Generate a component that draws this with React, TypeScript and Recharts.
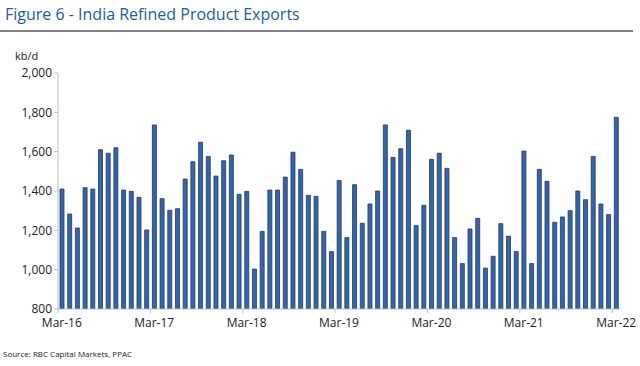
import { BarChart, Bar, XAxis, YAxis } from 'recharts'

const months = ['Jan', 'Feb', 'Mar', 'Apr', 'May', 'Jun', 'Jul', 'Aug', 'Sep', 'Oct', 'Nov', 'Dec']

// monthly exports, Mar-16 .. Mar-22 (kb/d)
const exports2016 = [1410, 1283, 1212, 1417, 1410, 1610, 1592, 1620, 1405, 1398]
const exports2017 = [1368, 1202, 1736, 1361, 1302, 1310, 1461, 1549, 1648, 1576, 1476, 1554]
const exports2018 = [1583, 1383, 1398, 1003, 1195, 1405, 1405, 1471, 1597, 1510, 1378, 1373]
const exports2019 = [1195, 1092, 1454, 1163, 1432, 1236, 1334, 1400, 1736, 1571, 1615, 1709]
const exports2020 = [1224, 1327, 1561, 1592, 1515, 1163, 1031, 1207, 1261, 1008, 1068, 1234]
const exports2021 = [1170, 1092, 1603, 1031, 1510, 1449, 1241, 1268, 1300, 1400, 1356, 1576]
const exports2022 = [1334, 1280, 1775]

const yTicks = [800, 1000, 1200, 1400, 1600, 1800, 2000]

const series: [number, number[], number][] = [
  [16, exports2016, 2],
  [17, exports2017, 0],
  [18, exports2018, 0],
  [19, exports2019, 0],
  [20, exports2020, 0],
  [21, exports2021, 0],
  [22, exports2022, 0],
]

const data = series.flatMap(([yr, vals, start]) =>
  vals.map((v, i) => ({ month: `${months[start + i]}-${yr}`, value: v }))
)

const font = 'Open Sans, Liberation Sans, sans-serif'
const axisGrey = '#BFBFBF'

function MonthTick(props: any) {
  const { x, y, payload } = props
  const half = 561.6 / data.length / 2
  return (
    <g>
      <line x1={x - half} x2={x - half} y1={y - 8} y2={y - 4} stroke={axisGrey} />
      <text x={x} y={y + 10} textAnchor="middle" fontSize={12} fill="#222" fontFamily={font}>
        {payload.value}
      </text>
    </g>
  )
}

export default function App() {
  return (
    <div style={{ position: 'absolute', left: 0, top: 0, width: 640, height: 366, background: '#fff', fontFamily: font }}>
      <div style={{ position: 'absolute', left: 5, top: 3, fontSize: 16, color: '#1F5C99' }}>
        Figure 6 - India Refined Product Exports
      </div>
      <div style={{ position: 'absolute', left: 0, top: 30, width: 633, height: 2, background: '#808080' }} />
      <div style={{ position: 'absolute', left: 15, top: 48, fontSize: 11, color: '#222' }}>kb/d</div>
      <div style={{ position: 'absolute', left: 3, top: 348, fontSize: 8, color: '#222' }}>
        Source: RBC Capital Markets, PPAC
      </div>
      <BarChart
        width={640}
        height={366}
        data={data}
        margin={{ top: 73, right: 20, bottom: 27, left: 0 }}
      >
        <XAxis
          dataKey="month"
          height={30}
          interval={11}
          tick={<MonthTick />}
          tickLine={false}
          axisLine={{ stroke: axisGrey }}
        />
        <YAxis
          width={58}
          domain={[800, 2000]}
          ticks={yTicks}
          allowDataOverflow
          tickFormatter={(v: number) => v.toLocaleString('en-US')}
          tick={{ fontSize: 12, fill: '#222', fontFamily: font }}
          tickLine={{ stroke: axisGrey }}
          tickSize={4}
          axisLine={{ stroke: axisGrey }}
        />
        <Bar dataKey="value" barSize={4} fill="#3565A8" stroke="#1F3864" strokeWidth={0.8} isAnimationActive={false} />
      </BarChart>
    </div>
  )
}
